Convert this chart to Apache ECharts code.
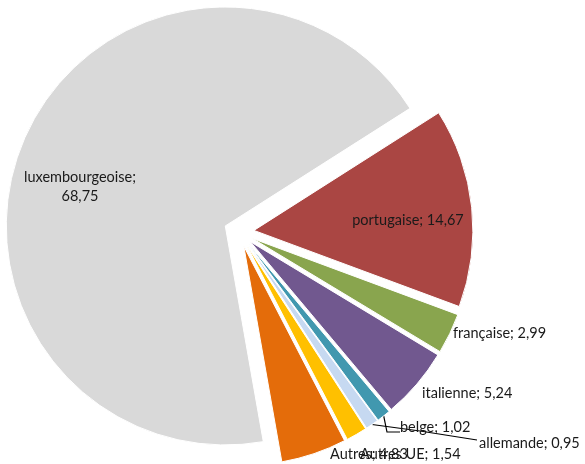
<!DOCTYPE html>
<html>
<head>
<meta charset="utf-8">
<script src="https://cdn.jsdelivr.net/npm/echarts@6/dist/echarts.min.js"></script>
<style>
html,body{margin:0;padding:0;background:#fff;}
#chart{width:585px;height:464px;}
</style>
</head>
<body>
<div id="chart"></div>
<script>
// ---- data ----
var categories = ['luxembourgeoise', 'portugaise', 'française', 'italienne', 'belge', 'allemande', 'Autres UE', 'Autres'];
var values = [68.75, 14.67, 2.99, 5.24, 1.02, 0.95, 1.54, 4.83];

// ---- styles (label placement, px) ----
var colors = ['#D9D9D9', '#AA4643', '#89A54E', '#71588F', '#4198AF', '#C6D9F1', '#FFC000', '#E46C0A'];
var labelAt = [
  {x: 80, y: 187, align: 'center'},
  {x: 408, y: 220, align: 'center'},
  {x: 453, y: 333, align: 'left'},
  {x: 422, y: 393, align: 'left'},
  {x: 400, y: 427, align: 'left'},
  {x: 479, y: 443, align: 'left'},
  {x: 360, y: 454, align: 'left'},
  {x: 330, y: 454, align: 'left'}
];
var lineEnd = [null, null, null, null, [[387, 432], [400, 432]], [[420, 431], [477, 440]], null, null];
var START_COMPASS = 170;   // degrees clockwise from north
var EXPLODE = 15;

function fmt(v) { return v.toFixed(2).replace('.', ','); }

// selection offset of each slice (labels follow the sector's transform)
var total = values.reduce(function (s, v) { return s + v; }, 0);
var shift = [];
(function () {
  var cum = 0;
  values.forEach(function (v) {
    var mid = (START_COMPASS + (cum + v / 2) / total * 360) * Math.PI / 180;
    shift.push([EXPLODE * Math.sin(mid), -EXPLODE * Math.cos(mid)]);
    cum += v;
  });
})();

var chart = echarts.init(document.getElementById('chart'), null, {renderer: 'canvas'});
var data = categories.map(function (c, i) {
  return {
    name: c,
    value: values[i],
    selected: true,
    itemStyle: {color: colors[i]},
    label: {
      position: i < 2 ? 'inside' : 'outside',
      formatter: i === 0 ? '{b};\n' + fmt(values[i]) : '{b}; ' + fmt(values[i]),
      align: 'center'
    },
    labelLine: {show: !!lineEnd[i]}
  };
});

chart.setOption({
  animation: false,
  series: [{
    type: 'pie',
    center: [239, 232],
    radius: [0, 219],
    startAngle: 90 - START_COMPASS,
    clockwise: true,
    selectedMode: 'multiple',
    selectedOffset: EXPLODE,
    avoidLabelOverlap: false,
    itemStyle: {borderColor: '#fff', borderWidth: 1},
    label: {
      fontFamily: 'Lato',
      fontSize: 14.5,
      color: '#1a1a1a',
      lineHeight: 19
    },
    labelLine: {length: 10, length2: 10, lineStyle: {color: '#000', width: 1.2}},
    labelLayout: function (p) {
      var i = p.dataIndex;
      var a = labelAt[i];
      var s = shift[i];
      var r = p.labelRect;
      var cx = a.align === 'center' ? r.x + r.width / 2 : r.x;
      var out = {
        dx: a.x - s[0] - cx,
        dy: a.y - s[1] - (r.y + r.height / 2),
        hideOverlap: false,
        moveOverlap: false
      };
      var le = lineEnd[i];
      if (le && p.labelLinePoints) {
        out.labelLinePoints = [
          p.labelLinePoints[0],
          [le[0][0] - s[0], le[0][1] - s[1]],
          [le[1][0] - s[0], le[1][1] - s[1]]
        ];
      }
      return out;
    },
    emphasis: {disabled: true},
    data: data
  }]
});
</script>
</body>
</html>
